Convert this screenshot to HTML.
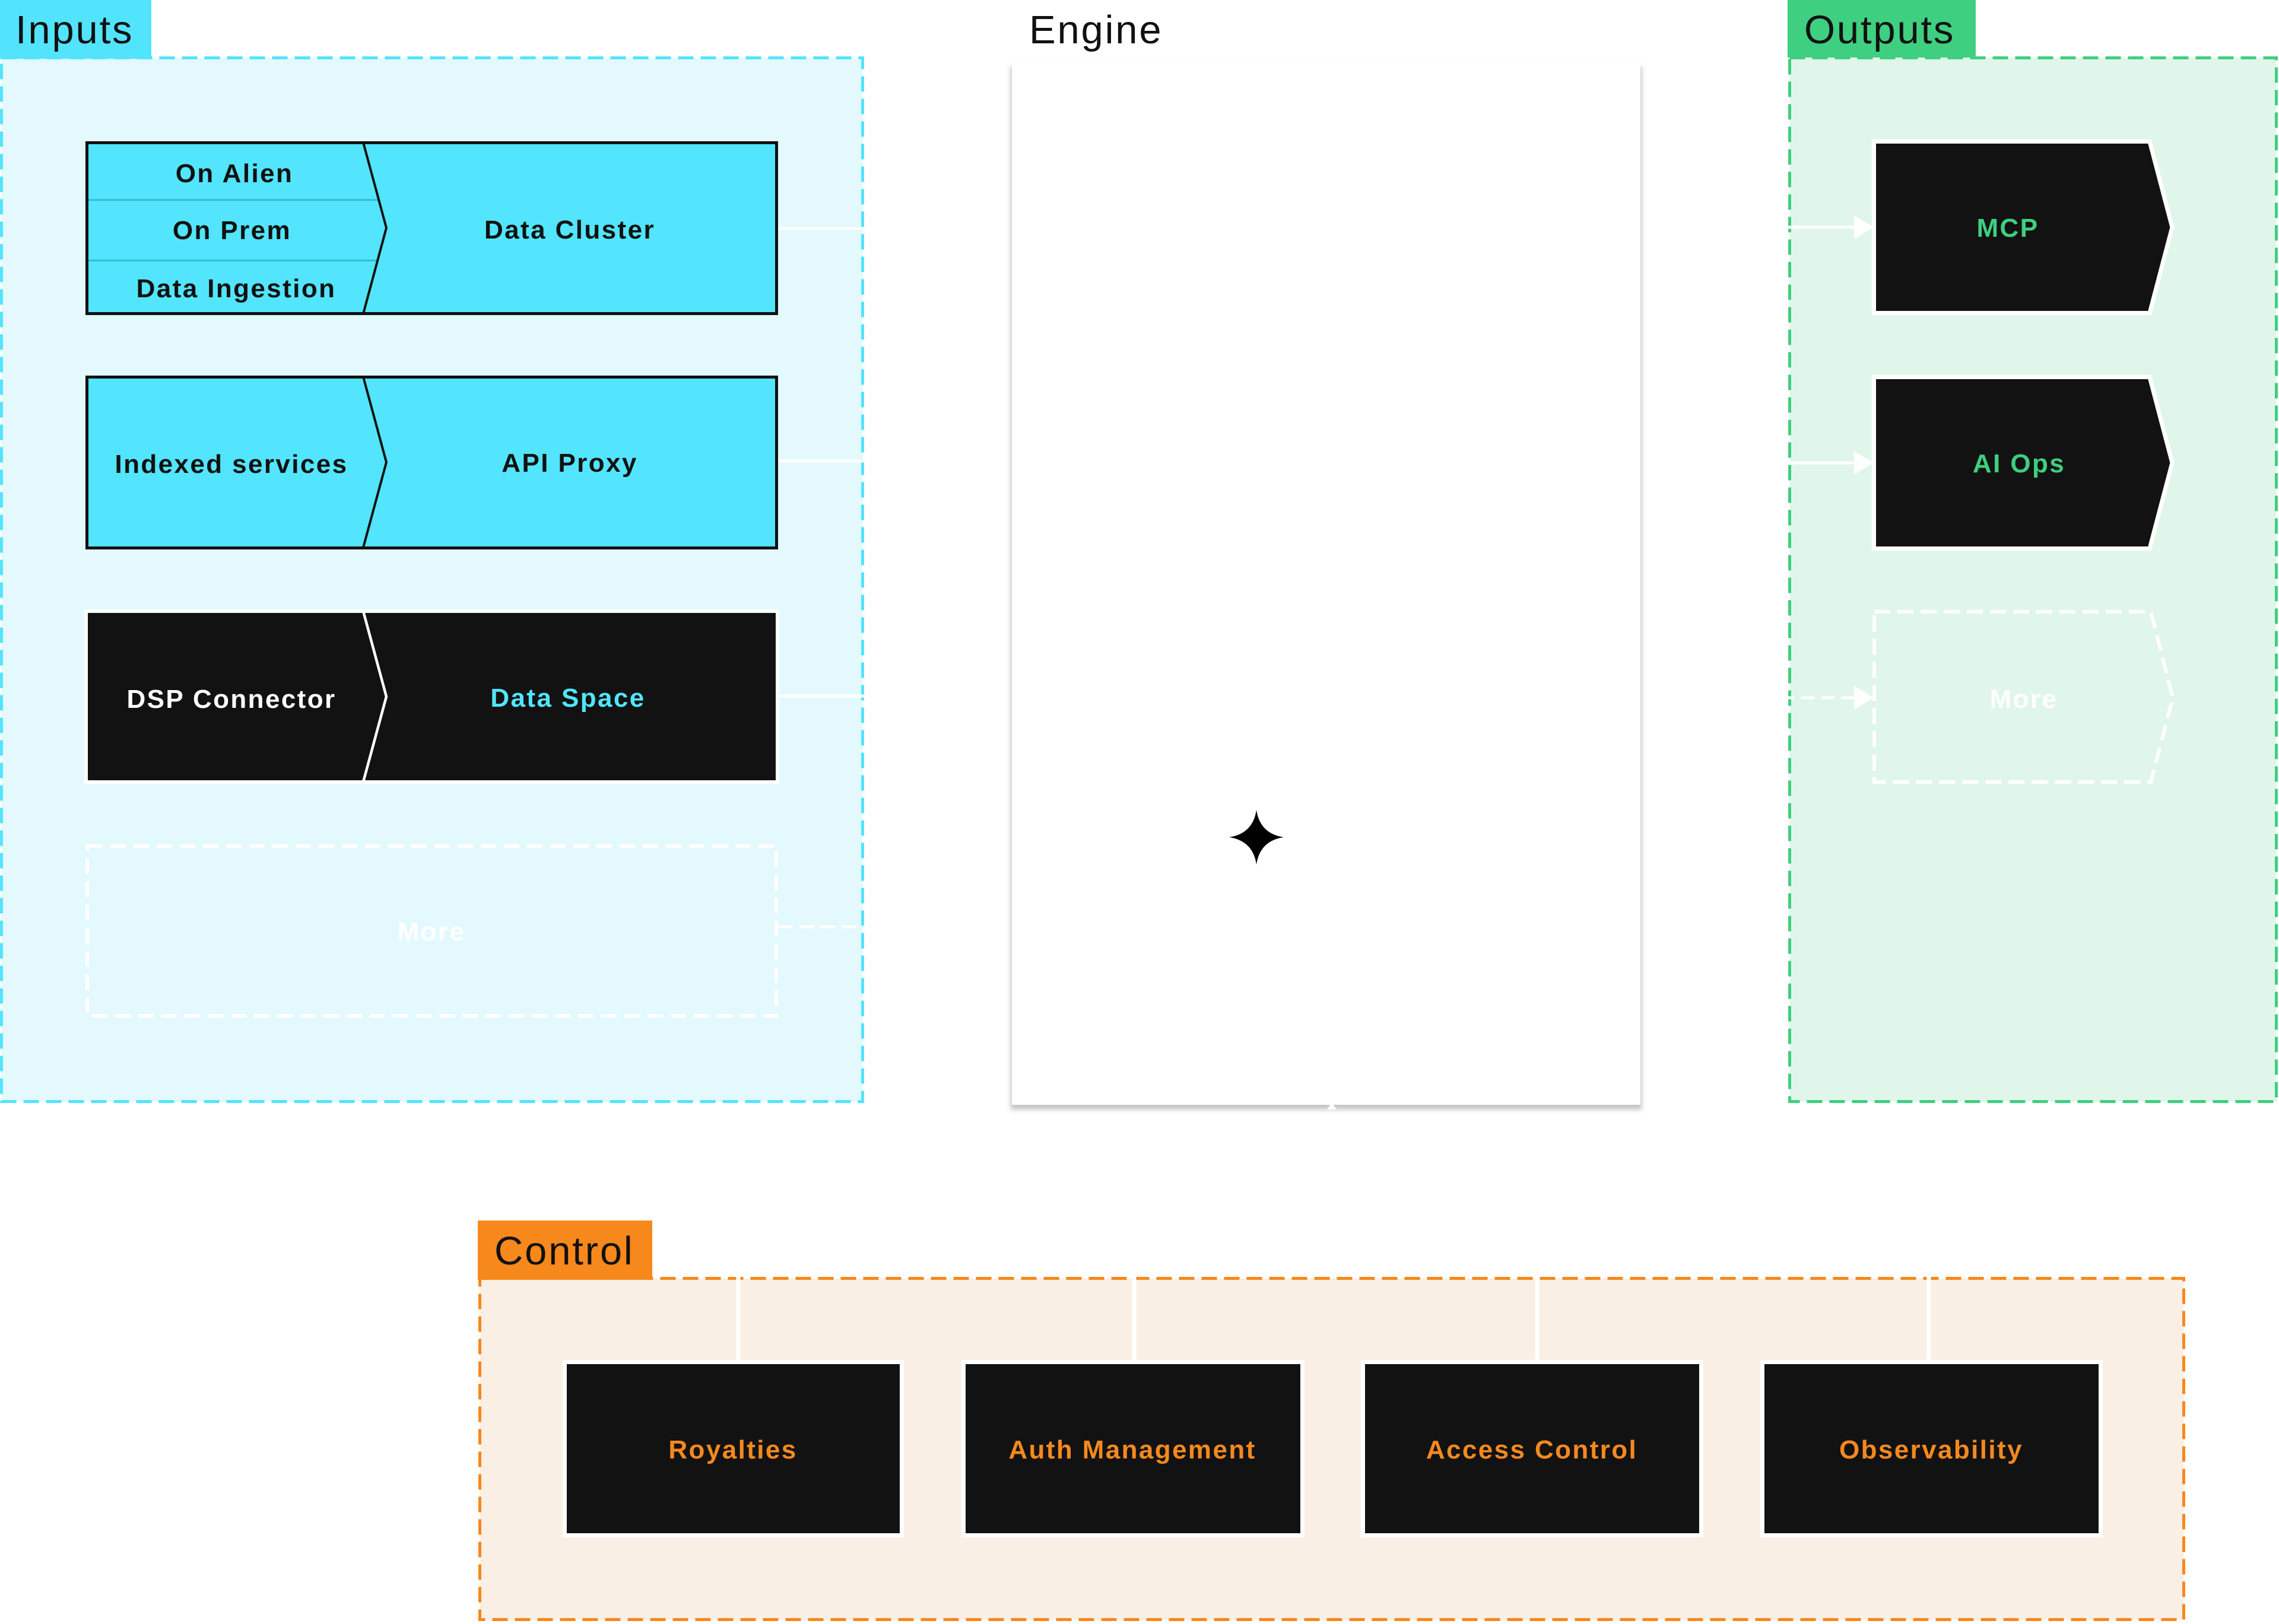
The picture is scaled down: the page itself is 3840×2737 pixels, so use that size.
<!DOCTYPE html>
<html>
<head>
<meta charset="utf-8">
<style>
  html,body{margin:0;padding:0;background:#ffffff;}
  svg{display:block;}
  .hdr{font-family:"Liberation Sans",Arial,sans-serif;font-size:67px;fill:#111111;letter-spacing:2.8px;}
  .lbl{font-family:"Liberation Sans",Arial,sans-serif;font-size:44px;font-weight:bold;letter-spacing:2.4px;text-anchor:middle;}
</style>
</head>
<body>
<svg width="3840" height="2737" viewBox="0 0 3840 2737" xmlns="http://www.w3.org/2000/svg">
  <defs>
    <filter id="blur" x="-5%" y="-5%" width="110%" height="110%">
      <feGaussianBlur stdDeviation="4"/>
    </filter>
  </defs>
  <rect x="0" y="0" width="3840" height="2737" fill="#ffffff"/>

  <!-- ============ INPUTS ============ -->
  <rect x="2.5" y="97.5" width="1451" height="1759" fill="#e3f9fe" stroke="#52e4fd" stroke-width="5" stroke-dasharray="26 12"/>
  <rect x="0" y="0" width="255" height="99" fill="#52e4fd"/>
  <text class="hdr" x="26" y="73">Inputs</text>

  <!-- connectors from inputs -->
  <line x1="1311" y1="385" x2="1700" y2="385" stroke="#ffffff" stroke-width="5"/>
  <line x1="1311" y1="777" x2="1700" y2="777" stroke="#ffffff" stroke-width="5"/>
  <line x1="1313" y1="1173" x2="1700" y2="1173" stroke="#ffffff" stroke-width="5"/>
  <line x1="1311" y1="1562" x2="1700" y2="1562" stroke="#ffffff" stroke-width="5" stroke-dasharray="24 12"/>

  <!-- Data Cluster -->
  <rect x="146.5" y="240.5" width="1162" height="288" fill="#52e5fd" stroke="#111111" stroke-width="5"/>
  <line x1="149" y1="337" x2="638" y2="337" stroke="#35b9cc" stroke-width="3"/>
  <line x1="149" y1="439" x2="636" y2="439" stroke="#35b9cc" stroke-width="3"/>
  <polyline points="612,240 651,384 612,529" fill="none" stroke="#111111" stroke-width="4"/>
  <text class="lbl" x="395" y="307" fill="#111111">On Alien</text>
  <text class="lbl" x="391" y="403" fill="#111111">On Prem</text>
  <text class="lbl" x="398" y="501" fill="#111111">Data Ingestion</text>
  <text class="lbl" x="960" y="402" fill="#111111">Data Cluster</text>

  <!-- API Proxy -->
  <rect x="146.5" y="635.5" width="1162" height="288" fill="#52e5fd" stroke="#111111" stroke-width="5"/>
  <polyline points="612,635 651,779 612,923" fill="none" stroke="#111111" stroke-width="4"/>
  <text class="lbl" x="390" y="797" fill="#111111">Indexed services</text>
  <text class="lbl" x="960" y="795" fill="#111111">API Proxy</text>

  <!-- DSP Connector / Data Space -->
  <rect x="145" y="1030" width="1165" height="288" fill="#121212" stroke="#ffffff" stroke-width="6"/>
  <polyline points="612,1030 651,1174 612,1318" fill="none" stroke="#ffffff" stroke-width="4.5"/>
  <text class="lbl" x="390" y="1193" fill="#ffffff">DSP Connector</text>
  <text class="lbl" x="957" y="1191" fill="#52e5fd">Data Space</text>

  <!-- More (inputs) -->
  <rect x="147" y="1426" width="1161" height="286" fill="none" stroke="#ffffff" stroke-width="6" stroke-dasharray="26 13"/>
  <text class="lbl" x="727" y="1585" fill="#ffffff">More</text>

  <!-- ============ ENGINE ============ -->
  <text class="hdr" x="1734" y="73">Engine</text>
  <rect x="1703" y="112" width="1063" height="1758" fill="#bdbdbd" filter="url(#blur)" opacity="0.9"/>
  <rect x="1705" y="106" width="1059" height="1756" fill="#ffffff"/>
  <polygon points="2236,1870 2244,1858 2252,1870" fill="#ffffff"/>
  <path d="M2117 1365 Q2123 1405 2163 1411 Q2123 1417 2117 1457 Q2111 1417 2071 1411 Q2111 1405 2117 1365 Z" fill="#000000"/>

  <!-- ============ OUTPUTS ============ -->
  <rect x="3015.5" y="97.5" width="820" height="1759" fill="#e1f6ea" stroke="#3ecf80" stroke-width="5" stroke-dasharray="26 12"/>
  <rect x="3012" y="0" width="317" height="97" fill="#3ecf80"/>
  <text class="hdr" x="3040" y="73">Outputs</text>

  <!-- arrows into outputs -->
  <line x1="2775" y1="383" x2="3128" y2="383" stroke="#ffffff" stroke-width="5"/>
  <polygon points="3124,363 3157,383 3124,403" fill="#ffffff"/>
  <line x1="2775" y1="780" x2="3128" y2="780" stroke="#ffffff" stroke-width="5"/>
  <polygon points="3124,760 3157,780 3124,800" fill="#ffffff"/>
  <line x1="2899" y1="1176" x2="3126" y2="1176" stroke="#ffffff" stroke-width="5" stroke-dasharray="22 12"/>
  <polygon points="3124,1156 3157,1176 3124,1196" fill="#ffffff"/>

  <!-- MCP -->
  <polygon points="3157.5,238.5 3622,238.5 3660,383 3622,527.5 3157.5,527.5" fill="#121212" stroke="#ffffff" stroke-width="7" stroke-linejoin="miter"/>
  <text class="lbl" x="3383" y="399" fill="#3ecf80">MCP</text>

  <!-- AI Ops -->
  <polygon points="3157.5,635.5 3622,635.5 3660,780 3622,924.5 3157.5,924.5" fill="#121212" stroke="#ffffff" stroke-width="7" stroke-linejoin="miter"/>
  <text class="lbl" x="3402" y="796" fill="#3ecf80">AI Ops</text>

  <!-- More (outputs) -->
  <polygon points="3158,1031 3624,1031 3661,1176 3624,1318 3158,1318" fill="none" stroke="#ffffff" stroke-width="6" stroke-dasharray="27 12"/>
  <text class="lbl" x="3410" y="1193" fill="#ffffff">More</text>

  <!-- ============ CONTROL ============ -->
  <rect x="808.5" y="2154.5" width="2871" height="575" fill="#f9efe5" stroke="#f7881b" stroke-width="5" stroke-dasharray="26 12"/>
  <rect x="805" y="2057" width="294" height="100" fill="#f7881b"/>
  <text class="hdr" x="833" y="2131">Control</text>

  <!-- vertical connectors -->
  <line x1="1244" y1="1880" x2="1244" y2="2292" stroke="#ffffff" stroke-width="7"/>
  <line x1="1911" y1="1880" x2="1911" y2="2292" stroke="#ffffff" stroke-width="7"/>
  <line x1="2590" y1="1880" x2="2590" y2="2292" stroke="#ffffff" stroke-width="7"/>
  <line x1="3250" y1="1880" x2="3250" y2="2292" stroke="#ffffff" stroke-width="7"/>

  <!-- control boxes -->
  <rect x="951.5" y="2295.5" width="568" height="292" fill="#121212" stroke="#ffffff" stroke-width="7"/>
  <text class="lbl" x="1235" y="2458" fill="#f5891f">Royalties</text>

  <rect x="1623.5" y="2295.5" width="571" height="292" fill="#121212" stroke="#ffffff" stroke-width="7"/>
  <text class="lbl" x="1908" y="2458" fill="#f5891f">Auth Management</text>

  <rect x="2296.5" y="2295.5" width="570" height="292" fill="#121212" stroke="#ffffff" stroke-width="7"/>
  <text class="lbl" x="2581" y="2458" fill="#f5891f">Access Control</text>

  <rect x="2969.5" y="2295.5" width="570" height="292" fill="#121212" stroke="#ffffff" stroke-width="7"/>
  <text class="lbl" x="3254" y="2458" fill="#f5891f">Observability</text>
</svg>
</body>
</html>
